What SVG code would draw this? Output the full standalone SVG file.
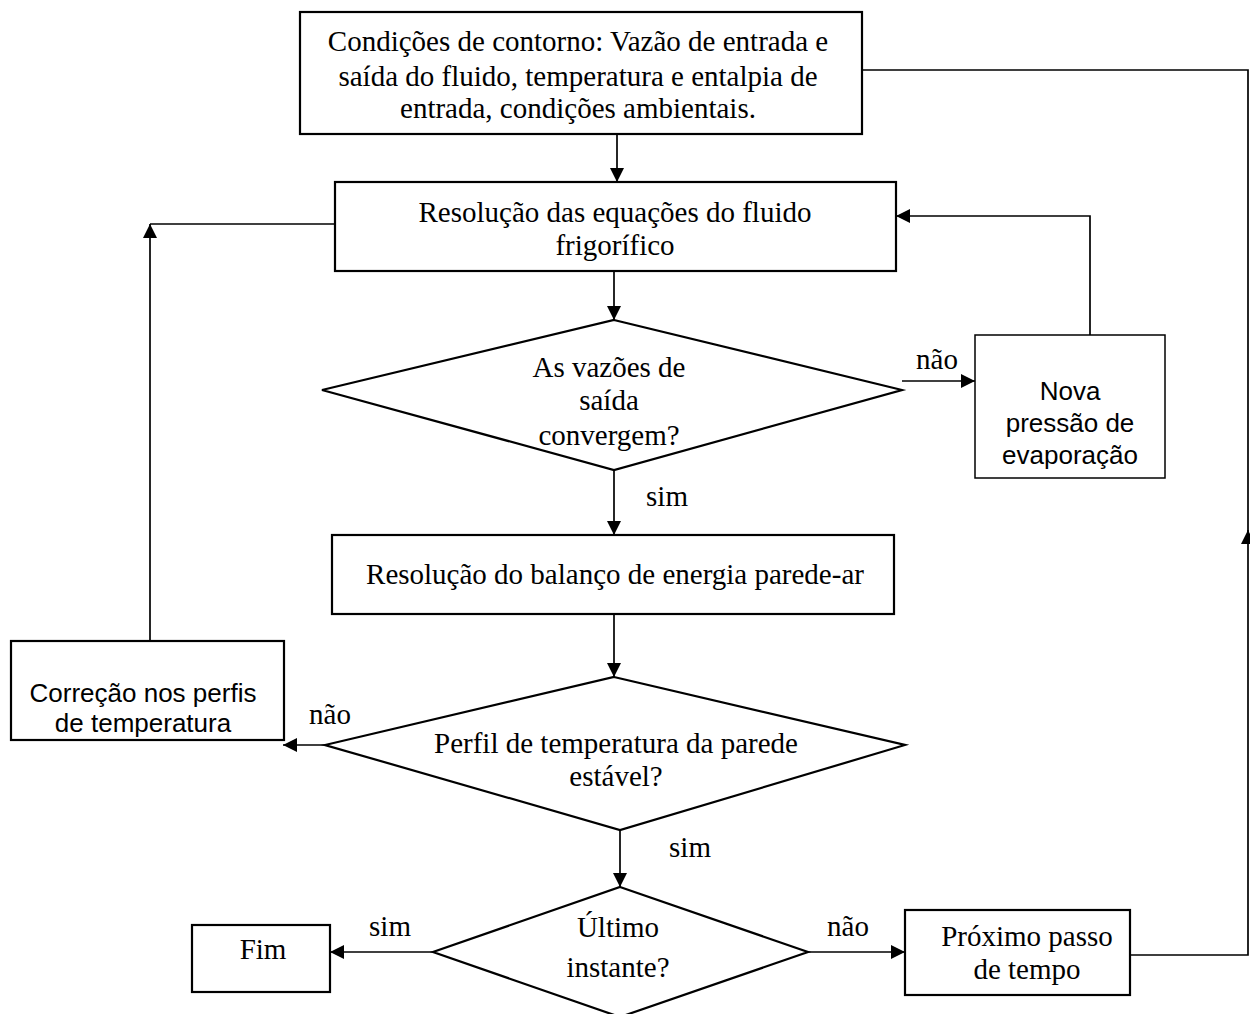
<svg xmlns="http://www.w3.org/2000/svg" width="1250" height="1014" viewBox="0 0 1250 1014">
  <style>
    .box { fill: #fff; stroke: #000; stroke-width: 2.2; }
    .thin { fill: #fff; stroke: #000; stroke-width: 1.5; }
    .serif { font-family: "Liberation Serif", "Times New Roman", serif; font-size: 29px; fill: #000; text-anchor: middle; }
    .sans { font-family: "Liberation Sans", Arial, sans-serif; font-size: 26px; fill: #000; text-anchor: middle; }
    .edge { fill: none; stroke: #000; stroke-width: 1.7; }
  </style>
  <defs>
    <marker id="arrowL" viewBox="0 0 14 14" refX="14" refY="7" markerWidth="14" markerHeight="16" markerUnits="userSpaceOnUse" orient="auto">
      <path d="M0,0 L14,7 L0,14 z" fill="#000"/>
    </marker>
  </defs>

  <g id="connectors">
    <!-- boundary conditions -> fluid equations -->
    <path class="edge" d="M617,134 V182" marker-end="url(#arrowL)"/>
    <!-- fluid equations -> convergence test -->
    <path class="edge" d="M614,271 V320" marker-end="url(#arrowL)"/>
    <!-- convergence: no -> new pressure -->
    <path class="edge" d="M902,381 H975" marker-end="url(#arrowL)"/>
    <!-- new pressure -> back to fluid equations -->
    <path class="edge" d="M1090,335 V216 H896" marker-end="url(#arrowL)"/>
    <!-- convergence: yes -> energy balance -->
    <path class="edge" d="M614,470 V535" marker-end="url(#arrowL)"/>
    <!-- energy balance -> wall profile test -->
    <path class="edge" d="M614,614 V677" marker-end="url(#arrowL)"/>
    <!-- wall profile: no -> correction -->
    <path class="edge" d="M325,745 H283" marker-end="url(#arrowL)"/>
    <!-- correction -> back to fluid equations -->
    <path class="edge" d="M150,640 V224" marker-end="url(#arrowL)"/>
    <path class="edge" d="M150,224 H335"/>
    <!-- wall profile: yes -> last instant test -->
    <path class="edge" d="M620,830 V887" marker-end="url(#arrowL)"/>
    <!-- last instant: yes -> end -->
    <path class="edge" d="M433,952 H330" marker-end="url(#arrowL)"/>
    <!-- last instant: no -> next time step -->
    <path class="edge" d="M808,952 H905" marker-end="url(#arrowL)"/>
    <!-- next time step -> boundary conditions -->
    <path class="edge" d="M1130,955 H1248 V530" marker-end="url(#arrowL)"/>
    <path class="edge" d="M1248,540 V70 H862"/>
  </g>

  <g id="labels">
    <text class="serif" x="937" y="369">não</text>
    <text class="serif" x="667" y="506">sim</text>
    <text class="serif" x="330" y="724">não</text>
    <text class="serif" x="690" y="857">sim</text>
    <text class="serif" x="390" y="936">sim</text>
    <text class="serif" x="848" y="936">não</text>
  </g>

  <g id="boundary">
    <rect class="box" x="300" y="12" width="562" height="122"/>
    <text class="serif" x="578" y="51">Condições de contorno: Vazão de entrada e</text>
    <text class="serif" x="578" y="86">saída do fluido, temperatura e entalpia de</text>
    <text class="serif" x="578" y="118">entrada, condições ambientais.</text>
  </g>

  <g id="fluid">
    <rect class="box" x="335" y="182" width="561" height="89"/>
    <text class="serif" x="615" y="222">Resolução das equações do fluido</text>
    <text class="serif" x="615" y="255">frigorífico</text>
  </g>

  <g id="converge">
    <polygon class="box" points="614,320 902,390 614,470 322,390"/>
    <text class="serif" x="609" y="377">As vazões de</text>
    <text class="serif" x="609" y="410">saída</text>
    <text class="serif" x="609" y="445">convergem?</text>
  </g>

  <g id="pressure">
    <rect class="thin" x="975" y="335" width="190" height="143"/>
    <text class="sans" x="1070" y="400">Nova</text>
    <text class="sans" x="1070" y="432">pressão de</text>
    <text class="sans" x="1070" y="464">evaporação</text>
  </g>

  <g id="energy">
    <rect class="box" x="332" y="535" width="562" height="79"/>
    <text class="serif" x="615" y="584">Resolução do balanço de energia parede-ar</text>
  </g>

  <g id="wall">
    <polygon class="box" points="614,677 905,745 620,830 325,745"/>
    <text class="serif" x="616" y="753">Perfil de temperatura da parede</text>
    <text class="serif" x="616" y="786">estável?</text>
  </g>

  <g id="correction">
    <rect class="box" x="11" y="641" width="273" height="99"/>
    <text class="sans" x="143" y="702">Correção nos perfis</text>
    <text class="sans" x="143" y="732">de temperatura</text>
  </g>

  <g id="last">
    <polygon class="box" points="620,887 808,952 620,1017 433,952"/>
    <text class="serif" x="618" y="937">Último</text>
    <text class="serif" x="618" y="977">instante?</text>
  </g>

  <g id="end">
    <rect class="box" x="192" y="925" width="138" height="67"/>
    <text class="serif" x="263" y="959">Fim</text>
  </g>

  <g id="step">
    <rect class="box" x="905" y="910" width="225" height="85"/>
    <text class="serif" x="1027" y="946">Próximo passo</text>
    <text class="serif" x="1027" y="979">de tempo</text>
  </g>
</svg>
